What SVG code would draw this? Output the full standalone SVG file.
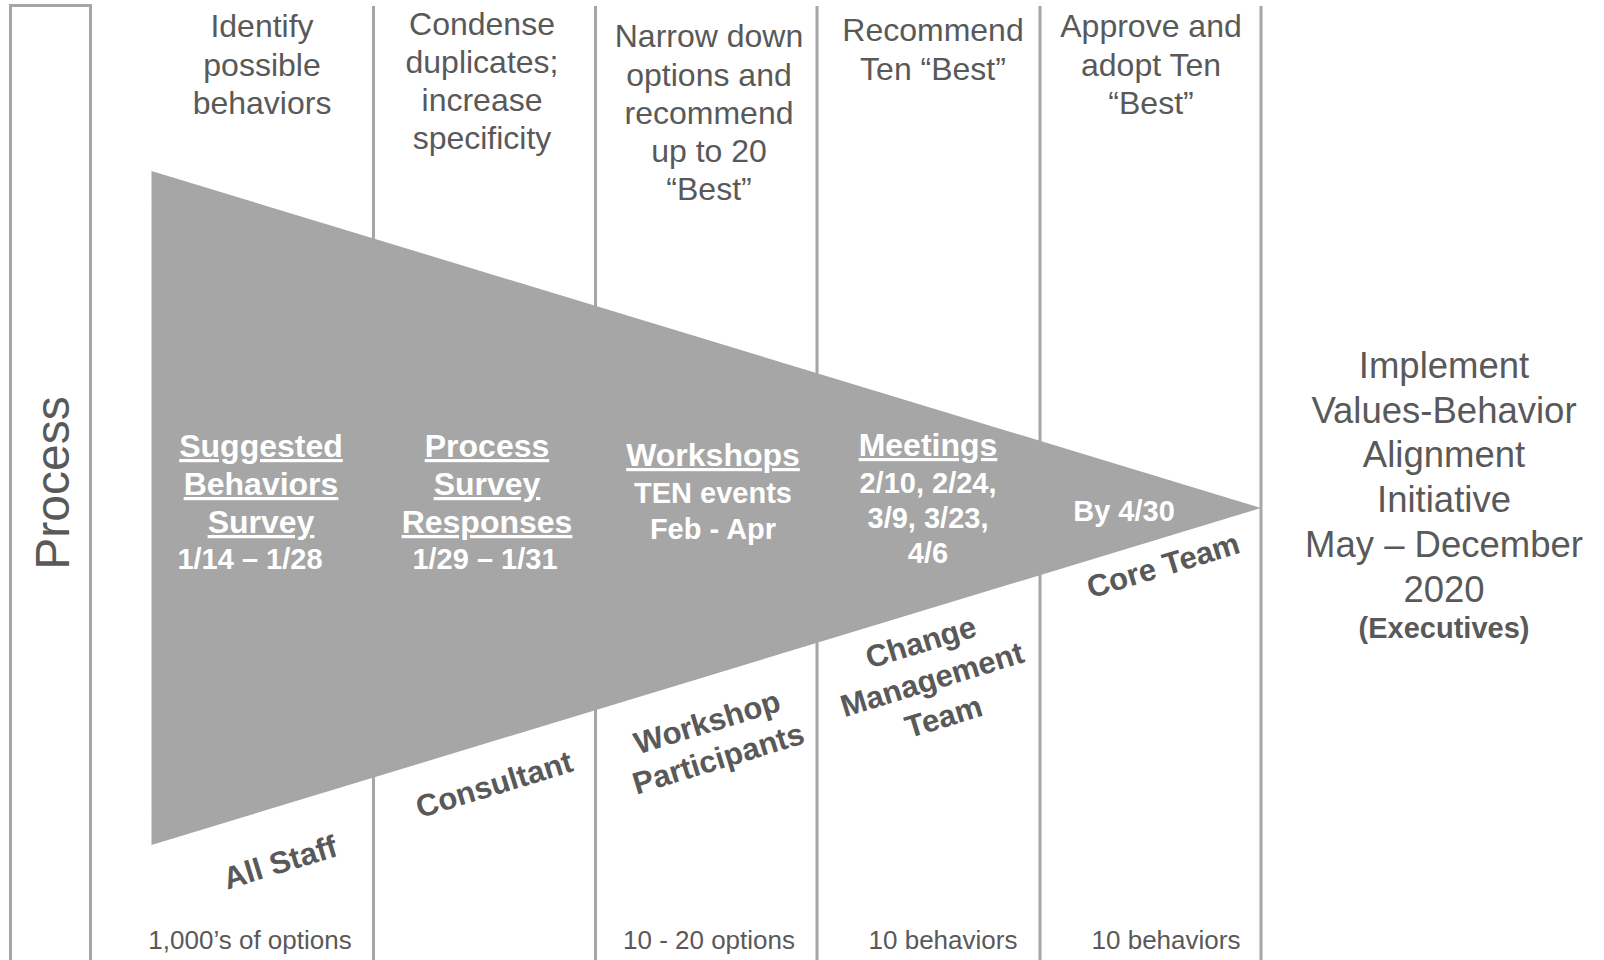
<svg xmlns="http://www.w3.org/2000/svg" width="1604" height="960" viewBox="0 0 1604 960">
  <style>
    .t{font-family:"Liberation Sans",Arial,Helvetica,sans-serif;fill:#595959;text-anchor:middle}
    .top{font-size:32px}
    .bot{font-size:26px}
    .rot{font-size:31px;font-weight:bold}
    .side{font-size:36.5px}
    .exec{font-size:29px;font-weight:bold}
    .w{font-family:"Liberation Sans",Arial,Helvetica,sans-serif;fill:#ffffff;font-weight:bold;text-anchor:middle}
    .h{font-size:32px;text-decoration:underline;text-decoration-skip-ink:none}
    .d{font-size:29px}
    .rule{stroke:#a6a6a6;stroke-width:3;fill:none}
  </style>

  <rect width="1604" height="960" fill="#ffffff"/>

  <!-- column rules -->
  <g id="connectors">
    <line class="rule" x1="373.5" y1="6" x2="373.5" y2="960"/>
    <line class="rule" x1="595.5" y1="6" x2="595.5" y2="960"/>
    <line class="rule" x1="817" y1="6" x2="817" y2="960"/>
    <line class="rule" x1="1040" y1="6" x2="1040" y2="960"/>
    <line class="rule" x1="1261" y1="6" x2="1261" y2="960"/>
  </g>

  <!-- side title box -->
  <g id="process">
    <rect class="rule" x="10.5" y="5.5" width="80" height="965"/>
    <text class="t" font-size="48" transform="translate(69,483) rotate(-90)">Process</text>
  </g>

  <!-- funnel -->
  <g id="funnel">
    <polygon points="151.5,171 1261,508 151.5,845" fill="#a6a6a6"/>
  </g>

  <!-- step headings -->
  <g id="step1-head">
    <text class="t top" x="262" y="37">Identify</text>
    <text class="t top" x="262" y="75.5">possible</text>
    <text class="t top" x="262" y="114">behaviors</text>
  </g>
  <g id="step2-head">
    <text class="t top" x="482" y="35">Condense</text>
    <text class="t top" x="482" y="73">duplicates;</text>
    <text class="t top" x="482" y="111">increase</text>
    <text class="t top" x="482" y="149">specificity</text>
  </g>
  <g id="step3-head">
    <text class="t top" x="709" y="47">Narrow down</text>
    <text class="t top" x="709" y="85.5">options and</text>
    <text class="t top" x="709" y="124">recommend</text>
    <text class="t top" x="709" y="162">up to 20</text>
    <text class="t top" x="709" y="200">“Best”</text>
  </g>
  <g id="step4-head">
    <text class="t top" x="933" y="41">Recommend</text>
    <text class="t top" x="933" y="79.5">Ten “Best”</text>
  </g>
  <g id="step5-head">
    <text class="t top" x="1151" y="37">Approve and</text>
    <text class="t top" x="1151" y="75.5">adopt Ten</text>
    <text class="t top" x="1151" y="114">“Best”</text>
  </g>

  <!-- activities inside the funnel -->
  <g id="step1-activity">
    <text class="w h" x="261" y="457">Suggested</text>
    <text class="w h" x="261" y="495">Behaviors</text>
    <text class="w h" x="261" y="533">Survey</text>
    <text class="w d" x="250" y="569">1/14 – 1/28</text>
  </g>
  <g id="step2-activity">
    <text class="w h" x="487" y="457">Process</text>
    <text class="w h" x="487" y="495">Survey</text>
    <text class="w h" x="487" y="533">Responses</text>
    <text class="w d" x="485" y="569">1/29 – 1/31</text>
  </g>
  <g id="step3-activity">
    <text class="w h" x="713" y="466">Workshops</text>
    <text class="w d" x="713" y="503">TEN events</text>
    <text class="w d" x="713" y="539">Feb - Apr</text>
  </g>
  <g id="step4-activity">
    <text class="w h" x="928" y="456">Meetings</text>
    <text class="w d" x="928" y="493">2/10, 2/24,</text>
    <text class="w d" x="928" y="528">3/9, 3/23,</text>
    <text class="w d" x="928" y="563">4/6</text>
  </g>
  <g id="step5-activity">
    <text class="w d" x="1124" y="521">By 4/30</text>
  </g>

  <!-- participants, along the lower funnel edge -->
  <g id="step1-who" transform="translate(280,862) rotate(-17)">
    <text class="t rot" x="0" y="11">All Staff</text>
  </g>
  <g id="step2-who" transform="translate(494,784) rotate(-17)">
    <text class="t rot" x="0" y="11">Consultant</text>
  </g>
  <g id="step3-who" transform="translate(712.5,740) rotate(-17)">
    <text class="t rot" x="0" y="-8">Workshop</text>
    <text class="t rot" x="0" y="30">Participants</text>
  </g>
  <g id="step4-who" transform="translate(932,679) rotate(-17)">
    <text class="t rot" x="0" y="-28">Change</text>
    <text class="t rot" x="0" y="11">Management</text>
    <text class="t rot" x="0" y="50">Team</text>
  </g>
  <g id="step5-who" transform="translate(1163,565) rotate(-17)">
    <text class="t rot" x="0" y="11">Core Team</text>
  </g>

  <!-- option counts -->
  <g id="step1-count"><text class="t bot" x="250" y="949">1,000’s of options</text></g>
  <g id="step3-count"><text class="t bot" x="709" y="949">10 - 20 options</text></g>
  <g id="step4-count"><text class="t bot" x="943" y="949">10 behaviors</text></g>
  <g id="step5-count"><text class="t bot" x="1166" y="949">10 behaviors</text></g>

  <!-- outcome -->
  <g id="outcome">
    <text class="t side" x="1444" y="378">Implement</text>
    <text class="t side" x="1444" y="423">Values-Behavior</text>
    <text class="t side" x="1444" y="467">Alignment</text>
    <text class="t side" x="1444" y="512">Initiative</text>
    <text class="t side" x="1444" y="557">May – December</text>
    <text class="t side" x="1444" y="602">2020</text>
    <text class="t exec" x="1444" y="638">(Executives)</text>
  </g>
</svg>
